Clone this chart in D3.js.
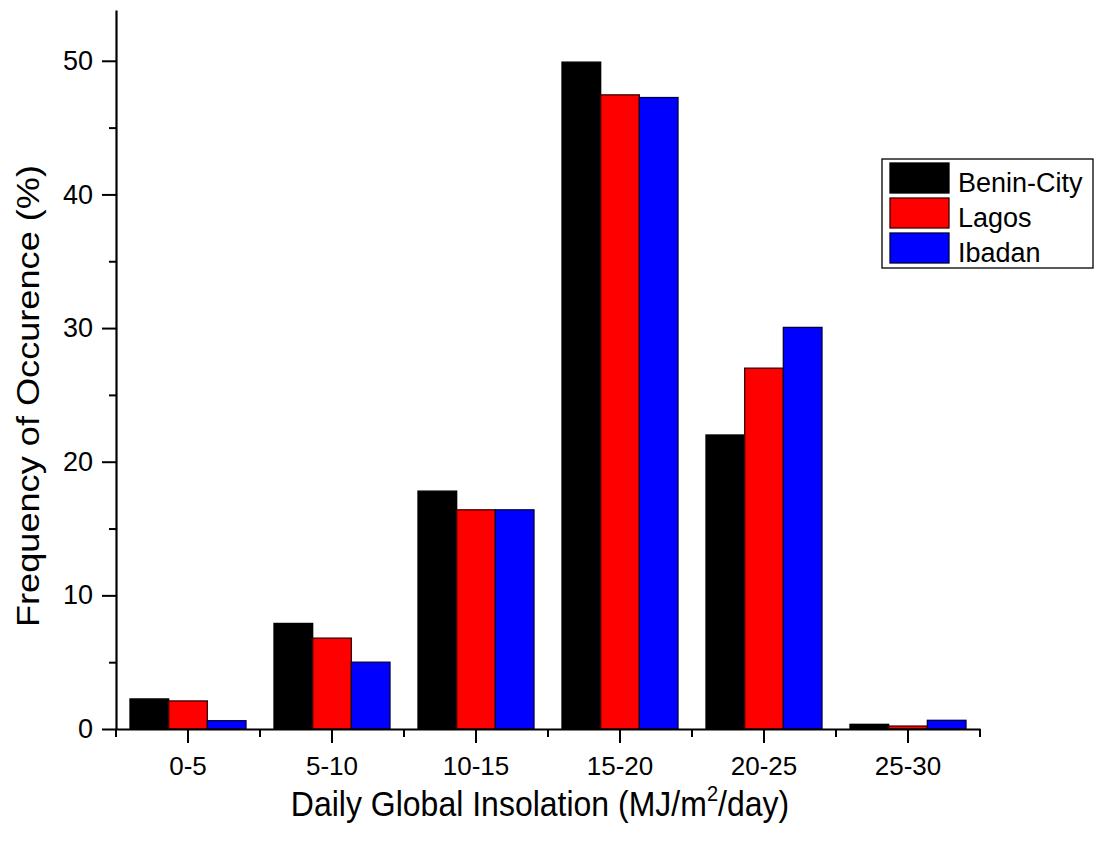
<!DOCTYPE html>
<html>
<head>
<meta charset="utf-8">
<script src="https://cdn.jsdelivr.net/npm/d3@7"></script>
<style>
  body { margin: 0; background: #fff; }
  text { font-family: "Liberation Sans", Arial, sans-serif; }
</style>
</head>
<body>
<script>
// categories and series values
var categories = ["0-5", "5-10", "10-15", "15-20", "20-25", "25-30"];
var seriesNames = ["Benin-City", "Lagos", "Ibadan"];
var beninCity = [2.25, 7.9, 17.8, 49.9, 22.0, 0.35];
var lagos = [2.1, 6.8, 16.4, 47.45, 27.0, 0.22];
var ibadan = [0.62, 5.0, 16.4, 47.25, 30.05, 0.65];
var yTicks = [0, 10, 20, 30, 40, 50];

var seriesValues = [beninCity, lagos, ibadan];
var fills = ["#000000", "#ff0000", "#0000ff"];
var strokes = ["#000000", "#3a0000", "#000040"];

var svgWidth = 1105;
var svgHeight = 852;

var svg = d3.select("body")
    .append("svg")
    .attr("width", svgWidth)
    .attr("height", svgHeight);

// scales
var xScale = d3.scaleBand()
    .domain(categories)
    .range([116, 980])
    .padding(0);

var xSub = d3.scaleBand()
    .domain(seriesNames)
    .range([14, xScale.bandwidth() - 14]);

var yScale = d3.scaleLinear()
    .domain([0, 53.8])
    .range([729, 10]);

// flatten data for the bars
var barData = [];
categories.forEach(function (c, i) {
  seriesNames.forEach(function (s, j) {
    barData.push({ cat: c, series: s, value: seriesValues[j][i], idx: j });
  });
});

svg.append("g")
    .selectAll("rect")
    .data(barData)
    .enter()
    .append("rect")
    .attr("x", d => xScale(d.cat) + xSub(d.series))
    .attr("y", d => yScale(d.value))
    .attr("width", xSub.bandwidth())
    .attr("height", d => yScale(0) - yScale(d.value))
    .attr("fill", d => fills[d.idx])
    .attr("stroke", d => strokes[d.idx])
    .attr("stroke-width", 1.3);

// y axis - minor ticks every 5, major every 10
var yMinor = d3.axisLeft(yScale)
    .tickValues(d3.range(5, 50, 10))
    .tickSize(7)
    .tickFormat("");
svg.append("g")
    .attr("transform", "translate(116,0)")
    .call(yMinor)
    .call(g => g.select(".domain").remove())
    .selectAll("line").attr("stroke", "#000").attr("stroke-width", 2);

var yAxis = d3.axisLeft(yScale)
    .tickValues(yTicks)
    .tickSize(14)
    .tickPadding(9)
    .tickSizeOuter(0);
var yG = svg.append("g")
    .attr("transform", "translate(116,0)")
    .call(yAxis);
yG.select(".domain").attr("stroke", "#000").attr("stroke-width", 2.2);
yG.selectAll("line").attr("stroke", "#000").attr("stroke-width", 2);
yG.selectAll("text")
    .attr("font-size", 27)
    .attr("fill", "#000")
    .style("font-family", "Liberation Sans, Arial, sans-serif");

// x axis - major ticks at category centres, minor at band edges
var edgeScale = d3.scaleLinear().domain([0, categories.length]).range(xScale.range());
svg.append("g")
    .selectAll("line")
    .data(d3.range(0, categories.length + 1))
    .enter()
    .append("line")
    .attr("x1", d => edgeScale(d))
    .attr("x2", d => edgeScale(d))
    .attr("y1", 729)
    .attr("y2", 737)
    .attr("stroke", "#000")
    .attr("stroke-width", 2);

var xAxis = d3.axisBottom(xScale)
    .tickSize(14)
    .tickPadding(14)
    .tickSizeOuter(0);
var xG = svg.append("g")
    .attr("transform", "translate(0,729)")
    .call(xAxis);
xG.select(".domain").attr("stroke", "#000").attr("stroke-width", 2.2);
xG.selectAll("line").attr("stroke", "#000").attr("stroke-width", 2);
xG.selectAll("text")
    .attr("font-size", 26)
    .attr("fill", "#000")
    .style("font-family", "Liberation Sans, Arial, sans-serif");

// axis titles
svg.append("text")
    .attr("transform", "translate(39,396) rotate(-90) scale(1.13,1)")
    .attr("text-anchor", "middle")
    .attr("font-size", 32)
    .text("Frequency of Occurence (%)");

var xTitle = svg.append("text")
    .attr("transform", "translate(540,816) scale(1,1.12)")
    .attr("text-anchor", "middle")
    .attr("font-size", 32);
xTitle.append("tspan").text("Daily Global Insolation (MJ/m");
xTitle.append("tspan").attr("font-size", 20).attr("dy", -13).text("2");
xTitle.append("tspan").attr("dy", 13).text("/day)");

// legend
var legend = svg.append("g").attr("transform", "translate(882,159)");
legend.append("rect")
    .attr("width", 211)
    .attr("height", 109)
    .attr("fill", "#fff")
    .attr("stroke", "#000")
    .attr("stroke-width", 1.3);

var item = legend.selectAll(".item")
    .data(seriesNames)
    .enter()
    .append("g")
    .attr("class", "item")
    .attr("transform", (d, i) => `translate(8,${4 + i * 35})`);

item.append("rect")
    .attr("width", 59)
    .attr("height", 30)
    .attr("fill", (d, i) => fills[i])
    .attr("stroke", (d, i) => strokes[i])
    .attr("stroke-width", 1.3);

item.append("text")
    .attr("x", 68)
    .attr("y", 29)
    .attr("font-size", 27)
    .text(d => d);
</script>
</body>
</html>
